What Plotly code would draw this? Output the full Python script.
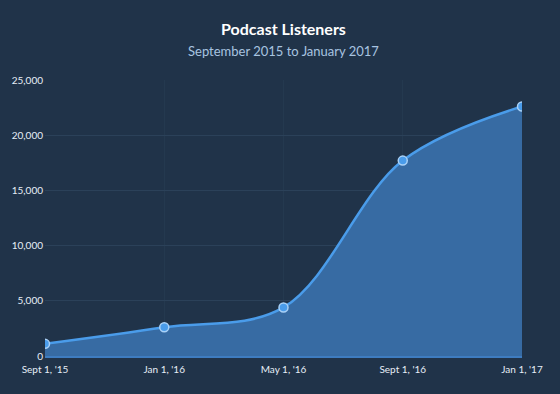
import plotly.graph_objects as go

categories = ["Sept 1, '15", "Jan 1, '16", "May 1, '16", "Sept 1, '16", "Jan 1, '17"]
listeners = [1100, 2600, 4400, 17700, 22600]
title_text = "Podcast Listeners"
subtitle_text = "September 2015 to January 2017"

x_pos = list(range(len(categories)))
H = 394
M_TOP, M_BOTTOM = 80, 38
plot_h = H - M_TOP - M_BOTTOM


def paper_y(px):
    # convert a pixel offset from the top of the page to paper coordinates
    return (H - M_BOTTOM - px) / plot_h


fig = go.Figure()
fig.add_trace(go.Scatter(
    x=x_pos, y=listeners,
    mode="lines+markers",
    line=dict(color="#4a9cea", width=2.5, shape="spline", smoothing=1.0),
    marker=dict(size=9, color="#4a9cea", line=dict(color="#a9d1f7", width=1.5)),
    fill="tozeroy",
    fillcolor="#376ba3",
    hoverinfo="x+y",
))

fig.add_annotation(
    text="<b>" + title_text + "</b>", xref="paper", yref="paper",
    x=0.5, y=paper_y(28), xanchor="center", yanchor="middle", showarrow=False,
    font=dict(size=16, color="#ffffff", family="Lato, sans-serif"),
)
fig.add_annotation(
    text=subtitle_text, xref="paper", yref="paper",
    x=0.5, y=paper_y(51), xanchor="center", yanchor="middle", showarrow=False,
    font=dict(size=13, color="#a8c4e0", family="Lato, sans-serif"),
)

fig.update_layout(
    width=560, height=H,
    paper_bgcolor="#203349",
    plot_bgcolor="#203349",
    margin=dict(l=41, r=38, t=M_TOP, b=M_BOTTOM),
    showlegend=False,
    font=dict(family="Lato, sans-serif", color="#e6eef7", size=10),
    xaxis=dict(
        range=[0, len(categories) - 1],
        tickvals=x_pos, ticktext=categories,
        showgrid=True, gridcolor="#24394f", gridwidth=1,
        zeroline=False,
        showline=False,
        ticks="", ticklabelstandoff=6,
        tickfont=dict(size=10, color="#e6eef7"),
        fixedrange=True,
    ),
    yaxis=dict(
        range=[0, 25000], dtick=5000, tickformat=",",
        showgrid=True, gridcolor="#2b4159", gridwidth=1,
        zeroline=True, zerolinecolor="#3e7cc0", zerolinewidth=3,
        ticks="", ticklabelstandoff=1,
        tickfont=dict(size=10, color="#e6eef7"),
        fixedrange=True,
    ),
)

fig.write_html(
    "out.html",
    config={"displayModeBar": False},
    post_script="document.body.style.margin='0';document.body.style.background='#203349';",
)
